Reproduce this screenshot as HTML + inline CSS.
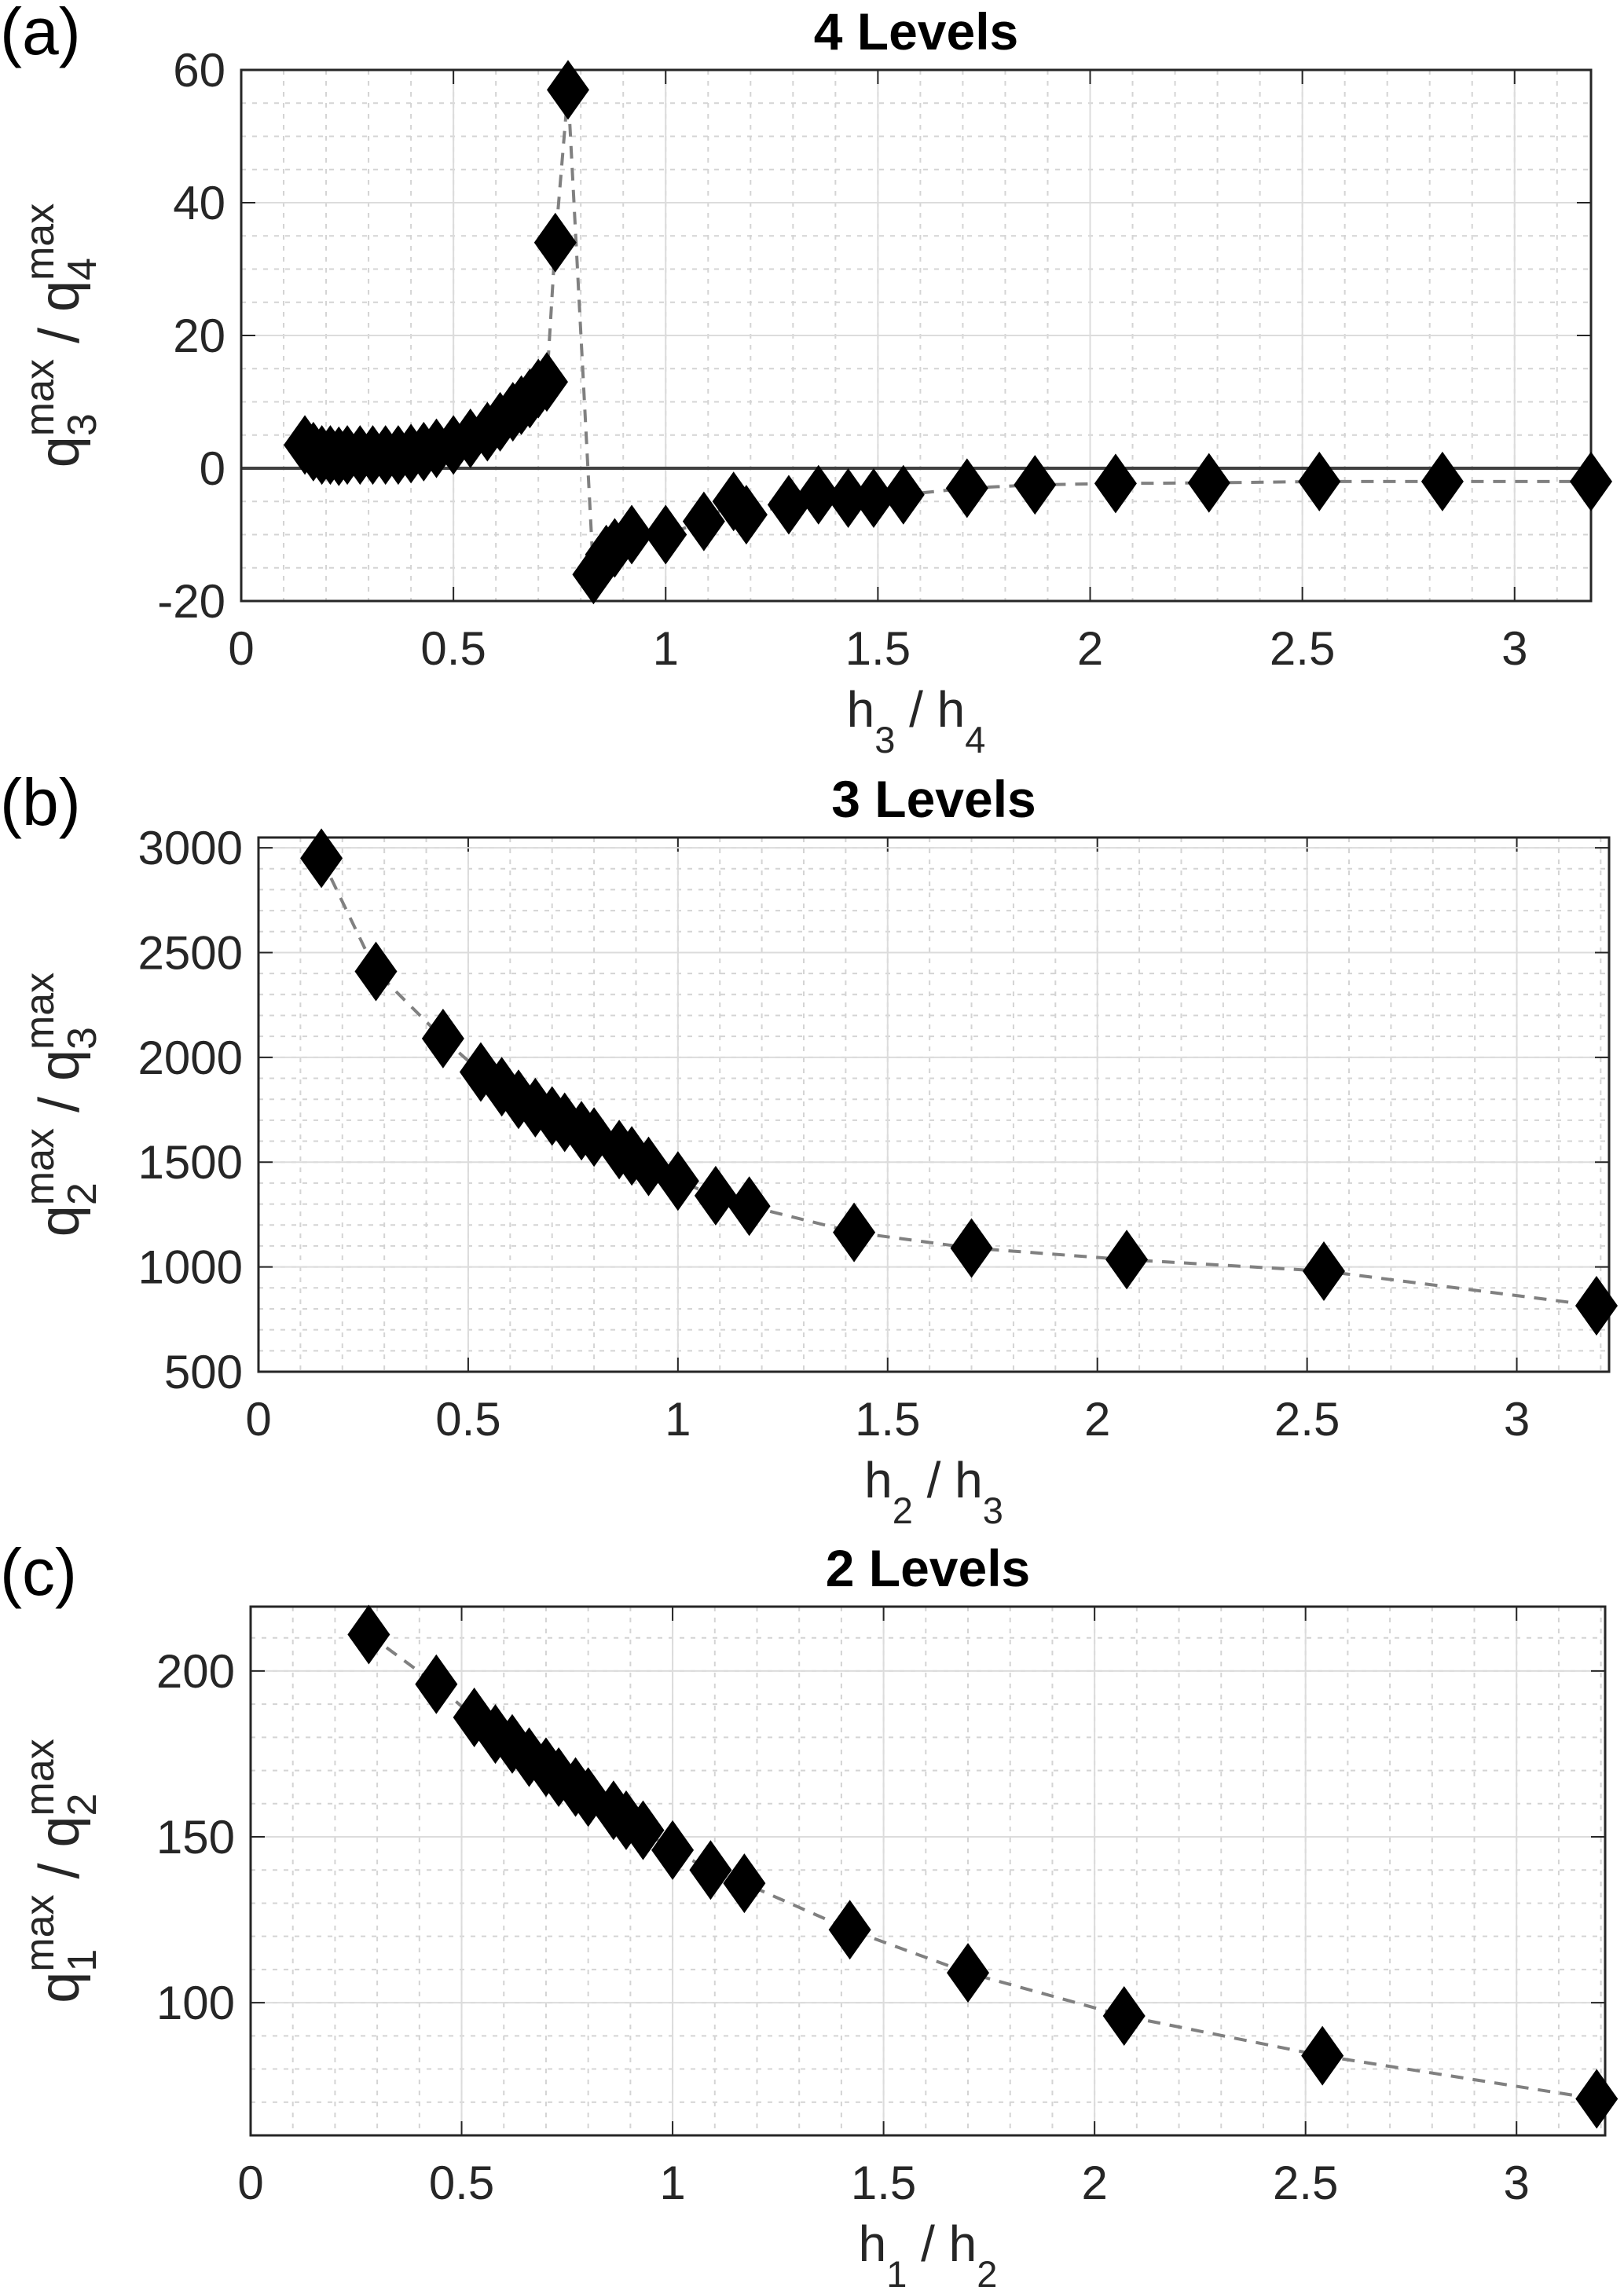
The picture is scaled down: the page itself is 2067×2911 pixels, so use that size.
<!DOCTYPE html>
<html><head><meta charset="utf-8"><style>
html,body{margin:0;padding:0;background:#fff;}
svg{display:block;font-family:"Liberation Sans",sans-serif;}
</style></head><body>
<svg id="fig" width="2067" height="2911" viewBox="0 0 2067 2911" xmlns="http://www.w3.org/2000/svg"></svg>
<script>
// Panel (a) data
const aX = [0.15,0.17,0.19,0.21,0.23,0.25,0.28,0.31,0.34,0.37,0.40,0.43,0.46,0.50,0.54,0.58,0.61,0.64,0.66,0.68,0.70,0.72,0.74,0.77,0.83,0.86,0.88,0.92,1.0,1.09,1.16,1.19,1.29,1.36,1.43,1.49,1.56,1.71,1.87,2.06,2.28,2.54,2.83,3.18];
const aY = [3.5,2.5,2,2,1.8,2,2,2,2,2,2.2,2.5,3,3.5,4.5,5.5,7,8.5,9.5,10.5,12,13,34,57,-16,-13,-12,-10,-10,-8,-5,-7,-5.5,-4,-4.5,-4.5,-4,-3,-2.5,-2.3,-2.2,-2,-2,-2];
const aXTicks = [0,0.5,1,1.5,2,2.5,3];
const aYTicks = [-20,0,20,40,60];
// Panel (b) data
const bX = [0.15,0.28,0.44,0.53,0.58,0.62,0.66,0.70,0.73,0.77,0.80,0.86,0.89,0.93,1.0,1.09,1.17,1.42,1.70,2.07,2.54,3.19];
const bY = [2950,2410,2090,1930,1860,1800,1760,1720,1690,1650,1620,1560,1530,1480,1410,1340,1290,1165,1090,1035,980,815];
const bXTicks = [0,0.5,1,1.5,2,2.5,3];
const bYTicks = [500,1000,1500,2000,2500,3000];
// Panel (c) data
const cX = [0.28,0.44,0.53,0.58,0.62,0.66,0.70,0.73,0.77,0.80,0.86,0.89,0.93,1.0,1.09,1.17,1.42,1.70,2.07,2.54,3.19];
const cY = [211,196,186,181,178,174,171,168,165,162,158,155,152,146,140,136,122,109,96,84,71];
const cXTicks = [0,0.5,1,1.5,2,2.5,3];
const cYTicks = [100,150,200];

const NS = "http://www.w3.org/2000/svg";
const svg = document.getElementById('fig');
function mk(tag, attrs, parent){
  const e = document.createElementNS(NS, tag);
  for (const k in attrs) e.setAttribute(k, attrs[k]);
  (parent||svg).appendChild(e);
  return e;
}

function panel(o){
  const g = mk('g', {});
  
  
  const L=o.L,R=o.R,T=o.T,B=o.B;
  const sx = v => L + (v - o.x0)/(o.x1 - o.x0)*(R-L);
  const sy = v => B - (v - o.y0)/(o.y1 - o.y0)*(B-T);
  for (let v = o.x0; v <= o.x1 + 1e-9; v += 0.1) {
    const x = sx(v);
    const l = mk('line', {x1:x,x2:x,y1:T,y2:B,stroke:'#d4d4d4','stroke-width':2,'stroke-dasharray':'6 8'}, g);
    
    
  }
  for (let v = Math.ceil(o.y0/o.ym)*o.ym; v <= o.y1 + 1e-9; v += o.ym) {
    const y = sy(v);
    const l = mk('line', {x1:L,x2:R,y1:y,y2:y,stroke:'#d4d4d4','stroke-width':2,'stroke-dasharray':'6 8'}, g);
    
    
  }
  o.xt.forEach(v => {
    const x = sx(v);
    const l = mk('line', {x1:x,x2:x,y1:T,y2:B,stroke:'#dcdcdc','stroke-width':2}, g);
    
    
    mk('line', {x1:x,x2:x,y1:B,y2:B-18,stroke:'#262626','stroke-width':2}, g);
    mk('line', {x1:x,x2:x,y1:T,y2:T+18,stroke:'#262626','stroke-width':2}, g);
    const t = mk('text', {x:x,y:B+81,'font-size':60,fill:'#262626','text-anchor':'middle'}, g);
    t.textContent = String(v);
    
    
  });
  o.yt.forEach(v => {
    const y = sy(v);
    const l = mk('line', {x1:L,x2:R,y1:y,y2:y,stroke:'#dcdcdc','stroke-width':2}, g);
    
    
    mk('line', {x1:L,x2:L+18,y1:y,y2:y,stroke:'#262626','stroke-width':2}, g);
    mk('line', {x1:R,x2:R-18,y1:y,y2:y,stroke:'#262626','stroke-width':2}, g);
    const t = mk('text', {x:L-20,y:y+21,'font-size':60,fill:'#262626','text-anchor':'end'}, g);
    t.textContent = String(v);
    
    
  });
  if (o.zero) {
    const z = mk('line', {x1:L,x2:R,y1:sy(0),y2:sy(0),stroke:'#404040','stroke-width':4}, g);
    
    
  }
  const box = mk('rect', {x:L,y:T,width:R-L,height:B-T,fill:'none',stroke:'#262626','stroke-width':3}, g);
  
  
  const pts = o.xs.map((x,i)=> sx(x).toFixed(1)+','+sy(o.ys[i]).toFixed(1)).join(' ');
  const pl = mk('polyline', {points:pts,fill:'none',stroke:'#808080','stroke-width':4,'stroke-dasharray':'16 12'}, g);
  
  
  const hw = 27, hh = 38;
  o.xs.forEach((x,i)=>{
    const cx = sx(x), cy = sy(o.ys[i]);
    const p = mk('polygon', {points:`${cx},${cy-hh} ${cx+hw},${cy} ${cx},${cy+hh} ${cx-hw},${cy}`, fill:'#000'}, g);
    
    
  });
  const tt = mk('text', {x:(L+R)/2,y:T-26,'font-size':66,'font-weight':'bold',fill:'#000','text-anchor':'middle'}, g);
  tt.textContent = o.title;
  
  
  const pl2 = mk('text', {x:0,y:o.letterY,'font-size':84,fill:'#000'}, g);
  pl2.textContent = o.letter;
  
  
  const xl = mk('text', {x:(L+R)/2,y:B+160,'font-size':64,fill:'#262626','text-anchor':'middle'}, g);
  xl.innerHTML = `h<tspan font-size="47" dy="33">${o.xa}</tspan><tspan dy="-33"> / h</tspan><tspan font-size="47" dy="33">${o.xb}</tspan>`;
  
  
  const yc = (T+B)/2;
  const yl = mk('text', {x:0,y:0,'font-size':72,fill:'#262626','text-anchor':'middle',transform:`translate(${o.ylx},${yc}) rotate(-90)`}, g);
  yl.innerHTML = `q<tspan font-size="52" dy="22">${o.ya}</tspan><tspan font-size="52" dx="-29" dy="-54">max</tspan><tspan dy="32"> / q</tspan><tspan font-size="52" dy="22">${o.yb}</tspan><tspan font-size="52" dx="-29" dy="-54">max</tspan>`;
  
  
}

panel({name:'panel-a',L:307,R:2025,T:89,B:765,x0:0,x1:3.18,y0:-20,y1:60,ym:5,xt:aXTicks,yt:aYTicks,xs:aX,ys:aY,zero:true,title:'4 Levels',letter:'(a)',letterY:69,xa:'3',xb:'4',ya:'3',yb:'4',ylx:100});
panel({name:'panel-b',L:329,R:2048,T:1066,B:1746,x0:0,x1:3.22,y0:500,y1:3049,ym:100,xt:bXTicks,yt:bYTicks,xs:bX,ys:bY,zero:false,title:'3 Levels',letter:'(b)',letterY:1050,xa:'2',xb:'3',ya:'2',yb:'3',ylx:100});
panel({name:'panel-c',L:319,R:2043,T:2045,B:2718,x0:0,x1:3.21,y0:60,y1:219.4,ym:10,xt:cXTicks,yt:cYTicks,xs:cX,ys:cY,zero:false,title:'2 Levels',letter:'(c)',letterY:2030,xa:'1',xb:'2',ya:'1',yb:'2',ylx:100});
</script>
</body></html>
